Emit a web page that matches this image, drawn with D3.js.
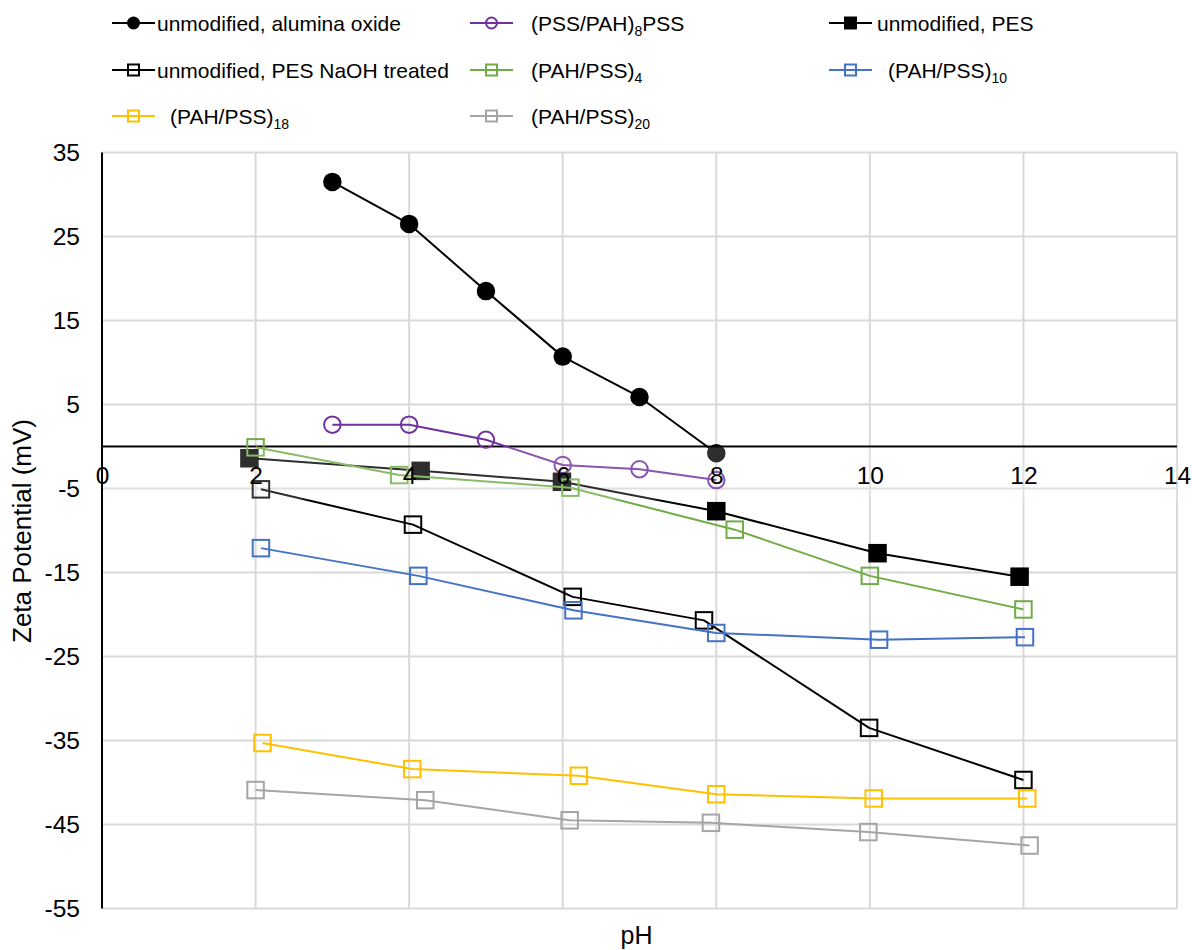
<!DOCTYPE html>
<html>
<head>
<meta charset="utf-8">
<script src="https://cdn.jsdelivr.net/npm/d3@7"></script>
<style>
  html, body { margin: 0; padding: 0; background: #fff; }
  svg { display: block; font-family: "Liberation Sans", Arial, sans-serif; }
</style>
</head>
<body>
<svg id="chart" width="1192" height="950"></svg>
<script>
// ---- data ----
const xTicks = [0, 2, 4, 6, 8, 10, 12, 14];
const yTicks = [35, 25, 15, 5, -5, -15, -25, -35, -45, -55];

const aluminaX = [3, 4, 5, 6, 7, 8];
const aluminaY = [31.5, 26.5, 18.5, 10.7, 5.9, -0.8];

const pssPahX = [3, 4, 5, 6, 7, 8];
const pssPahY = [2.6, 2.6, 0.8, -2.2, -2.7, -4.0];

const pesX = [1.92, 4.15, 5.99, 8.0, 10.1, 11.95];
const pesY = [-1.4, -2.9, -4.2, -7.7, -12.7, -15.5];

const naohX = [2.07, 4.05, 6.13, 7.84, 9.99, 12.0];
const naohY = [-5.1, -9.3, -17.9, -20.7, -33.5, -39.7];

const pah4X = [2.0, 3.87, 6.1, 8.24, 10.0, 12.0];
const pah4Y = [-0.1, -3.4, -4.9, -9.9, -15.4, -19.4];

const pah10X = [2.07, 4.12, 6.14, 8.0, 10.12, 12.02];
const pah10Y = [-12.1, -15.4, -19.5, -22.2, -23.0, -22.7];

const pah18X = [2.09, 4.04, 6.21, 8.0, 10.05, 12.05];
const pah18Y = [-35.3, -38.4, -39.2, -41.4, -41.9, -41.9];

const pah20X = [2.0, 4.21, 6.09, 7.93, 9.98, 12.08];
const pah20Y = [-40.9, -42.1, -44.5, -44.8, -45.9, -47.5];

// series definitions (label parts: [text, isSubscript])
const series = [
  { x: aluminaX, y: aluminaY, color: "#000000", marker: "circle", filled: true,
    label: [["unmodified, alumina oxide", false]], col: 0, row: 0, textOffset: 0 },
  { x: pssPahX, y: pssPahY, color: "#7030A0", marker: "circle", filled: false,
    label: [["(PSS/PAH)", false], ["8", true], ["PSS", false]], col: 1, row: 0, textOffset: 0 },
  { x: pesX, y: pesY, color: "#000000", marker: "square", filled: true,
    label: [["unmodified, PES", false]], col: 2, row: 0, textOffset: 0 },
  { x: naohX, y: naohY, color: "#000000", marker: "square", filled: false,
    label: [["unmodified, PES NaOH treated", false]], col: 0, row: 1, textOffset: 0 },
  { x: pah4X, y: pah4Y, color: "#70AD47", marker: "square", filled: false,
    label: [["(PAH/PSS)", false], ["4", true]], col: 1, row: 1, textOffset: 0 },
  { x: pah10X, y: pah10Y, color: "#4472C4", marker: "square", filled: false,
    label: [["(PAH/PSS)", false], ["10", true]], col: 2, row: 1, textOffset: 11 },
  { x: pah18X, y: pah18Y, color: "#FFC000", marker: "square", filled: false,
    label: [["(PAH/PSS)", false], ["18", true]], col: 0, row: 2, textOffset: 13 },
  { x: pah20X, y: pah20Y, color: "#A5A5A5", marker: "square", filled: false,
    label: [["(PAH/PSS)", false], ["20", true]], col: 1, row: 2, textOffset: 0 }
];

// ---- layout ----
const svg = d3.select("#chart");
const pLeft = 102, pRight = 1177, pTop = 152.5, pBottom = 908.5;
const x = d3.scaleLinear().domain([0, 14]).range([pLeft, pRight]);
const y = d3.scaleLinear().domain([-55, 35]).range([pBottom, pTop]);
const fmt = d => String(d);

// gridlines
const grid = svg.append("g");
grid.selectAll("line.h").data(yTicks).enter().append("line")
  .attr("x1", pLeft).attr("x2", pRight)
  .attr("y1", d => y(d)).attr("y2", d => y(d))
  .attr("stroke", "#d9d9d9").attr("stroke-width", 2);
grid.selectAll("line.v").data(xTicks.filter(d => d > 0)).enter().append("line")
  .attr("x1", d => x(d)).attr("x2", d => x(d))
  .attr("y1", pTop).attr("y2", pBottom)
  .attr("stroke", "#d9d9d9").attr("stroke-width", 2);

// y axis (left) via d3.axisLeft
const yAxis = svg.append("g").attr("transform", `translate(${pLeft},0)`)
  .call(d3.axisLeft(y).tickValues(yTicks).tickSize(0).tickPadding(22).tickFormat(fmt));
yAxis.select(".domain").attr("stroke", "#000").attr("stroke-width", 2).attr("d", `M0,${pTop}V${pBottom}`);
yAxis.selectAll("text").attr("font-size", 24.5).attr("fill", "#000")
  .attr("font-family", "Liberation Sans, Arial, sans-serif");

// x axis line at y=0
const xAxisG = svg.append("g").attr("transform", `translate(0,${y(0)})`);
xAxisG.append("line").attr("x1", pLeft).attr("x2", pRight).attr("y1", 0).attr("y2", 0)
  .attr("stroke", "#000").attr("stroke-width", 2);

// series
const line = d3.line().x(d => x(d[0])).y(d => y(d[1]));
const plot = svg.append("g");

function drawMarker(g, type, cx, cy, size, color, filled, sw) {
  if (type === "circle") {
    g.append("circle").attr("cx", cx).attr("cy", cy).attr("r", filled ? size / 2 : size / 2 - sw / 2)
      .attr("fill", filled ? color : "none").attr("stroke", filled ? "none" : color).attr("stroke-width", sw);
  } else {
    const s = filled ? size : size - sw;
    g.append("rect").attr("x", cx - s / 2).attr("y", cy - s / 2).attr("width", s).attr("height", s)
      .attr("fill", filled ? color : "none").attr("stroke", filled ? "none" : color).attr("stroke-width", sw);
  }
}

series.forEach(s => {
  const pts = s.x.map((xv, i) => [xv, s.y[i]]);
  const g = plot.append("g");
  g.append("path").attr("d", line(pts)).attr("fill", "none")
    .attr("stroke", s.color).attr("stroke-width", 2).attr("stroke-linejoin", "round");
  pts.forEach(p => drawMarker(g, s.marker, x(p[0]), y(p[1]), 18.5, s.color, s.filled, 2));
});

// slight light veil behind x tick labels (as in reference)
svg.append("rect").attr("x", pLeft + 1).attr("y", y(0) + 1).attr("width", pRight - pLeft - 1).attr("height", 52)
  .attr("fill", "#fff").attr("fill-opacity", 0.18);

// x tick labels via axis generator
const xLab = svg.append("g").attr("transform", `translate(0,${y(0)})`)
  .call(d3.axisBottom(x).tickValues(xTicks).tickSize(0).tickPadding(20).tickFormat(fmt));
xLab.select(".domain").remove();
xLab.selectAll("text").attr("font-size", 24.5).attr("fill", "#000")
  .attr("font-family", "Liberation Sans, Arial, sans-serif");

// axis titles
svg.append("text").attr("x", (pLeft + pRight) / 2 - 3).attr("y", 944).attr("text-anchor", "middle")
  .attr("font-size", 25).attr("fill", "#000").text("pH");
svg.append("text").attr("transform", "translate(31,531) rotate(-90)").attr("text-anchor", "middle")
  .attr("font-size", 26).attr("fill", "#000").text("Zeta Potential (mV)");

// legend
const colLine = [[112, 155], [470, 513], [829, 872]];
const colText = [157, 531, 877];
const rowY = [23, 70, 116];
const leg = svg.append("g");
series.forEach(s => {
  const [x1, x2] = colLine[s.col];
  const cy = rowY[s.row];
  leg.append("line").attr("x1", x1).attr("x2", x2).attr("y1", cy).attr("y2", cy)
    .attr("stroke", s.color).attr("stroke-width", 2);
  drawMarker(leg, s.marker, (x1 + x2) / 2, cy, 13, s.color, s.filled, 2);
  const t = leg.append("text").attr("x", colText[s.col] + s.textOffset).attr("y", cy + 7.5)
    .attr("font-size", 21).attr("fill", "#000");
  s.label.forEach(([txt, sub]) => {
    if (sub) {
      t.append("tspan").attr("font-size", 14).attr("dy", 5).text(txt);
    } else {
      const ts = t.append("tspan").text(txt);
      if (t.selectAll("tspan").size() > 1) ts.attr("dy", -5);
    }
  });
});
</script>
</body>
</html>
